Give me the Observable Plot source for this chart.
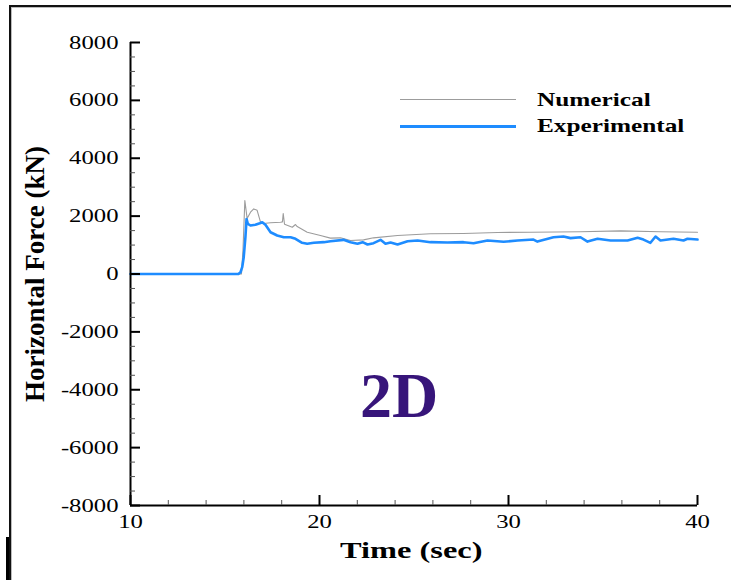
<!DOCTYPE html>
<html><head><meta charset="utf-8">
<script src="https://cdn.jsdelivr.net/npm/d3@7"></script>
<script src="https://cdn.jsdelivr.net/npm/@observablehq/plot@0.6"></script>
<style>
html,body{margin:0;padding:0;background:#fff;}
#wrap{position:relative;width:731px;height:580px;overflow:hidden;background:#fff;font-family:"Liberation Serif","Times New Roman",serif;}
#wrap svg{position:absolute;left:0;top:0;}
.ov{position:absolute;white-space:nowrap;font-weight:bold;color:#000;line-height:1;}
</style></head><body><div id="wrap"></div>
<script>
// Numerical series (grey)
const numTime = [10, 15.87, 15.95, 16.05, 16.17, 16.35, 16.52, 16.70, 16.88, 17.04, 17.41, 17.94, 18.04, 18.08, 18.15, 18.56, 18.73, 18.82, 19.35, 20.05, 20.58, 21.11, 21.64, 22.33, 22.86, 24.13, 25.87, 27.62, 29.42, 31.16, 33.8, 35.93, 38.04, 40];
const numForce = [0, 0, 800, 2540, 1920, 2135, 2250, 2200, 1790, 1745, 1770, 1790, 1800, 2090, 1720, 1617, 1710, 1640, 1444, 1330, 1240, 1250, 1157, 1180, 1250, 1330, 1390, 1400, 1434, 1444, 1460, 1490, 1460, 1444];
// Experimental series (blue)
const expTime = [10, 15.71, 15.82, 15.91, 15.99, 16.08, 16.14, 16.21, 16.35, 16.61, 16.84, 16.97, 17.14, 17.41, 17.76, 18.11, 18.47, 18.73, 19.08, 19.35, 19.70, 20.23, 20.58, 21.27, 21.64, 22.01, 22.28, 22.54, 22.86, 23.23, 23.49, 23.76, 24.13, 24.66, 25.19, 25.87, 26.77, 27.62, 28.15, 28.89, 29.74, 30.48, 31.32, 31.53, 32.38, 32.91, 33.28, 33.81, 34.18, 34.71, 35.40, 36.30, 36.83, 37.14, 37.51, 37.78, 38.04, 38.73, 39.26, 39.47, 40];
const expForce = [0, 0, 60, 235, 580, 1270, 1900, 1735, 1676, 1700, 1755, 1790, 1700, 1444, 1330, 1270, 1270, 1216, 1078, 1043, 1078, 1100, 1133, 1180, 1100, 1043, 1100, 1020, 1065, 1180, 1043, 1090, 1020, 1133, 1157, 1100, 1090, 1100, 1065, 1157, 1113, 1157, 1190, 1120, 1270, 1295, 1240, 1270, 1120, 1216, 1157, 1157, 1250, 1190, 1078, 1295, 1157, 1216, 1157, 1216, 1190];
// Ticks
const xMajor = [10, 20, 30, 40];
const xMinor = [12, 14, 16, 18, 22, 24, 26, 28, 32, 34, 36, 38];
const yMajor = [-8000, -6000, -4000, -2000, 0, 2000, 4000, 6000, 8000];
const yMinor = d3.range(-8000, 8001, 500).filter(v => v % 2000 !== 0);
const seriesNames = ["Numerical", "Experimental"];
const xTitle = "Time (sec)";
const yTitle = "Horizontal Force (kN)";
const panelTag = "2D";

const numerical = numTime.map((t, i) => ({t, f: numForce[i]}));
const experimental = expTime.map((t, i) => ({t, f: expForce[i]}));

const chart = Plot.plot({
  width: 731, height: 580,
  marginLeft: 130, marginRight: 34, marginTop: 42, marginBottom: 75,
  style: {fontFamily: "'Liberation Serif','Times New Roman',serif", background: "transparent", color: "#000"},
  x: {domain: [10, 40], label: null},
  y: {domain: [-8000, 8000], label: null},
  marks: [
    Plot.line(numerical, {x: "t", y: "f", stroke: "#9c9c9c", strokeWidth: 1.1}),
    Plot.line(experimental, {x: "t", y: "f", stroke: "#1e8cff", strokeWidth: 2.6, strokeLinejoin: "round"}),
    Plot.ruleX([10], {stroke: "#000", strokeWidth: 2}),
    Plot.ruleY([-8000], {stroke: "#000", strokeWidth: 2}),
    Plot.axisY(yMajor, {anchor: "left", tickSize: -10, strokeWidth: 2, tickFormat: () => "", label: null}),
    Plot.axisY(yMinor, {anchor: "left", tickSize: -5, strokeWidth: 1, stroke: "#555", tickFormat: () => "", label: null}),
    Plot.axisY(yMajor, {anchor: "left", tickSize: 0, tickPadding: 12, fontSize: 19, tickFormat: d => String(d), label: null}),
    Plot.axisX(xMajor, {anchor: "bottom", tickSize: -10, strokeWidth: 2, tickFormat: () => "", label: null}),
    Plot.axisX(xMinor, {anchor: "bottom", tickSize: -5, strokeWidth: 1, stroke: "#555", tickFormat: () => "", label: null}),
    Plot.axisX(xMajor, {anchor: "bottom", tickSize: 0, tickPadding: 9, fontSize: 19, tickFormat: d => String(d), label: null})
  ]
});
const wrap = document.getElementById("wrap");
wrap.appendChild(chart);

// horizontal stretch of tick labels (as in the reference)
function stretch(sel, k) {
  chart.querySelectorAll(sel).forEach(t => {
    const L = t.getComputedTextLength();
    if (L > 0) { t.setAttribute("textLength", L * k); t.setAttribute("lengthAdjust", "spacingAndGlyphs"); }
  });
}
stretch('g[aria-label="y-axis tick label"] text', 1.3);
stretch('g[aria-label="x-axis tick label"] text', 1.3);

function addDiv(css, text) {
  const d = document.createElement("div");
  d.className = "ov";
  d.style.cssText += css;
  if (text != null) d.textContent = text;
  wrap.appendChild(d);
  return d;
}
// frame
addDiv("left:9px;top:5px;width:740px;height:600px;border-top:2px solid #111;border-left:2px solid #111;box-shadow:inset 1px 1px 0 #bbb;");
addDiv("left:6px;top:537px;width:3px;height:50px;background:#000;");
// titles
addDiv("left:340px;top:538px;font-size:24px;transform:scaleX(1.35);transform-origin:0 0;", xTitle);
addDiv("left:35px;top:274px;font-size:27px;transform:translate(-50%,-50%) rotate(-90deg);", yTitle);
// legend
addDiv("left:400px;top:99px;width:116px;height:1px;background:#9c9c9c;");
addDiv("left:400px;top:125px;width:116px;height:3px;background:#1e8cff;");
addDiv("left:537px;top:90px;font-size:19px;transform:scaleX(1.33);transform-origin:0 0;", seriesNames[0]);
addDiv("left:537px;top:116px;font-size:19px;transform:scaleX(1.33);transform-origin:0 0;", seriesNames[1]);
// panel tag
addDiv("left:360px;top:364px;font-size:64px;color:#37157a;", panelTag);
</script></body></html>
